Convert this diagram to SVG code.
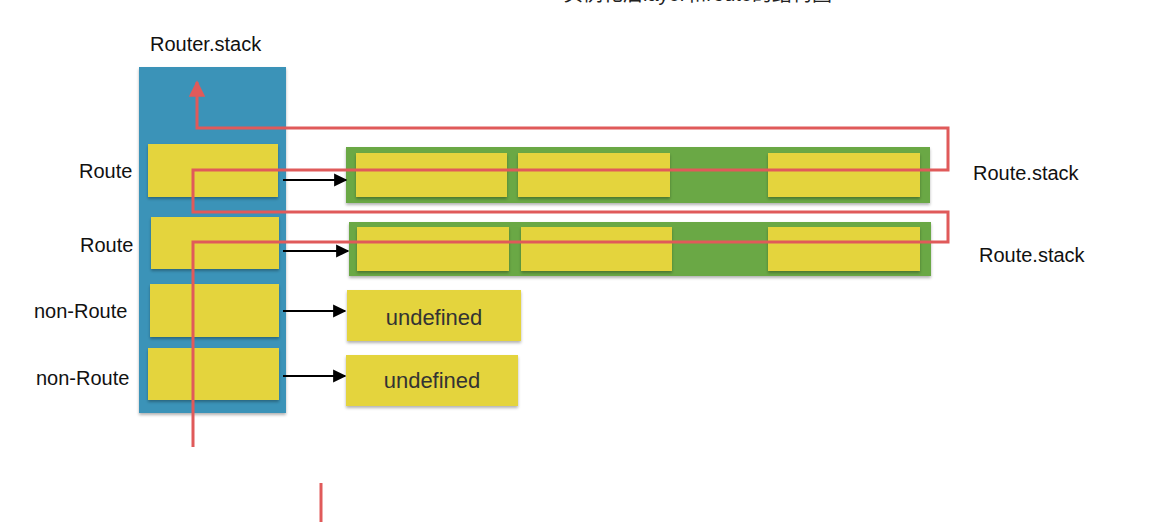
<svg xmlns="http://www.w3.org/2000/svg" width="1158" height="522" viewBox="0 0 1158 522">
<defs>
<filter id="sh" x="-10%" y="-10%" width="120%" height="130%">
<feDropShadow dx="0" dy="2" stdDeviation="1.5" flood-color="#000" flood-opacity="0.3"/>
</filter>
<marker id="ah" viewBox="0 0 10 10" refX="9" refY="5" markerWidth="6" markerHeight="6" orient="auto" markerUnits="strokeWidth">
<path d="M0,0 L10,5 L0,10 z" fill="#000"/>
</marker>
<marker id="rh" viewBox="0 0 10 10" refX="9" refY="5" markerWidth="5.5" markerHeight="5.5" orient="auto" markerUnits="strokeWidth">
<path d="M0,0 L10,5 L0,10 z" fill="#e05a5a"/>
</marker>
</defs>
<style>
.lbl{font-family:"Liberation Sans",Arial,sans-serif;font-size:20px;fill:#111}
.und{font-family:"Liberation Sans",Arial,sans-serif;font-size:22px;fill:#333;text-anchor:middle}
.ttl{font-family:"Liberation Sans","Noto Sans CJK SC",sans-serif;font-size:20px;fill:#222}
.blue{fill:#3a93b8}
.yel{fill:#e4d43e}
.grn{fill:#6aa845}
.conn{stroke:#000;stroke-width:2.2;fill:none}
.red{stroke:#e05a5a;stroke-width:3;fill:none}
</style>
<rect width="1158" height="522" fill="#fff"/>
<text class="ttl" x="563" y="1">实例化后layer和route的结构图</text>

<g id="router-stack">
<text class="lbl" x="150" y="51">Router.stack</text>
<rect class="blue" x="139" y="67" width="147" height="346" filter="url(#sh)"/>
</g>
<g id="layer1"><text class="lbl" x="79" y="178">Route</text><rect class="yel" x="148" y="144" width="130" height="53" filter="url(#sh)"/></g>
<g id="layer2"><text class="lbl" x="80" y="252">Route</text><rect class="yel" x="151" y="217" width="128" height="52" filter="url(#sh)"/></g>
<g id="layer3"><text class="lbl" x="34" y="318">non-Route</text><rect class="yel" x="150" y="284" width="129" height="53" filter="url(#sh)"/></g>
<g id="layer4"><text class="lbl" x="36" y="385">non-Route</text><rect class="yel" x="148" y="348" width="131" height="52" filter="url(#sh)"/></g>

<g id="route-stack-1">
<rect class="grn" x="346" y="147" width="584" height="56" filter="url(#sh)"/>
<rect class="yel" x="356" y="153" width="151" height="44" filter="url(#sh)"/>
<rect class="yel" x="518" y="153" width="152" height="44" filter="url(#sh)"/>
<rect class="yel" x="768" y="153" width="152" height="44" filter="url(#sh)"/>
<text class="lbl" x="973" y="180">Route.stack</text>
</g>
<g id="route-stack-2">
<rect class="grn" x="349" y="222" width="582" height="54" filter="url(#sh)"/>
<rect class="yel" x="357" y="227" width="152" height="44" filter="url(#sh)"/>
<rect class="yel" x="521" y="227" width="151" height="44" filter="url(#sh)"/>
<rect class="yel" x="768" y="227" width="152" height="44" filter="url(#sh)"/>
<text class="lbl" x="979" y="262">Route.stack</text>
</g>
<g id="undef-1"><rect class="yel" x="347" y="290" width="174" height="51" filter="url(#sh)"/><text class="und" x="434" y="325">undefined</text></g>
<g id="undef-2"><rect class="yel" x="346" y="355" width="172" height="51" filter="url(#sh)"/><text class="und" x="432" y="388">undefined</text></g>

<g id="connectors">
<line class="conn" x1="283" y1="180" x2="346" y2="180" marker-end="url(#ah)"/>
<line class="conn" x1="283" y1="251" x2="348" y2="251" marker-end="url(#ah)"/>
<line class="conn" x1="283" y1="311" x2="345" y2="311" marker-end="url(#ah)"/>
<line class="conn" x1="283" y1="376" x2="345" y2="376" marker-end="url(#ah)"/>
<path class="red" d="M193,447 V242 H948 V212 H193 V170 H948 V128 H197 V82" marker-end="url(#rh)"/>
<line class="red" x1="321" y1="483" x2="321" y2="522"/>
</g>
</svg>
